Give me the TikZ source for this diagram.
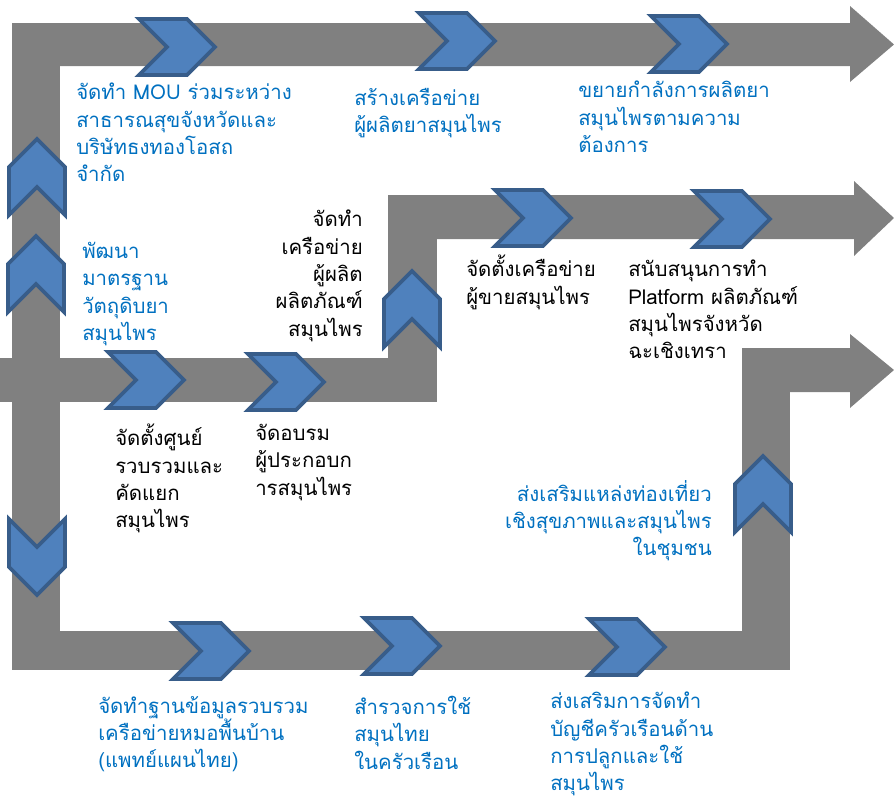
\documentclass[tikz,border=0pt]{standalone}
\usepackage{fontspec}
\newfontfamily\thaifont[Script=Thai]{Loma}
\usepackage{tikz}
\definecolor{bargray}{HTML}{808080}
\definecolor{chevfill}{HTML}{4F81BD}
\definecolor{chevline}{HTML}{385D8A}
\definecolor{txtblue}{HTML}{0070C0}

\begin{document}
\begin{tikzpicture}[x=0.75pt, y=-0.75pt,
  bar/.style={fill=bargray},
  chev/.pic={\draw[fill=chevfill, draw=chevline, line width=2.8pt]
      (-38,-28) -- (10,-28) -- (38,0) -- (10,28) -- (-38,28) -- (-10,0) -- cycle;},
  lbl/.style={font=\thaifont\fontsize{15.3}{20.5}\selectfont, inner sep=0pt},
  bl/.style={lbl, text=txtblue, align=left, anchor=north west},
  br/.style={lbl, text=txtblue, align=right, anchor=north east},
  kl/.style={lbl, text=black, align=left, anchor=north west},
  kr/.style={lbl, text=black, align=right, anchor=north east}
]
\useasboundingbox (0,0) rectangle (894,796);

% gray bars
\fill[bar] (12,23) -- (850,23) -- (850,6) -- (894,44.5) -- (850,82) -- (850,66) -- (12,66) -- cycle;
\fill[bar] (12,23) rectangle (60,670);
\fill[bar] (0,358) rectangle (437,402);
\fill[bar] (388,195) rectangle (437,402);
\fill[bar] (388,195) -- (854,195) -- (854,181) -- (894,218) -- (854,256) -- (854,239) -- (388,239) -- cycle;
\fill[bar] (12,631) rectangle (790,670);
\fill[bar] (742,348) rectangle (790,670);
\fill[bar] (742,348) -- (850,348) -- (850,334) -- (894,370) -- (850,408) -- (850,392) -- (742,392) -- cycle;

% chevrons: right, up, down
\foreach \x/\y in {177/47, 457/41, 689/44, 533/218, 732/219, 146/380, 286/382,
                   211/651, 402/646, 627/647}
  \pic at (\x,\y) {chev};
\foreach \x/\y in {37/177, 36/274, 412/309, 763/494}
  \pic[rotate=90] at (\x,\y) {chev};
\pic[rotate=-90] at (37,557) {chev};

% top row
\node[bl] (mou) at (76,83) {จัดทำ MOU ร่วมระหว่าง\\สาธารณสุขจังหวัดและ\\บริษัทธงทองโอสถ\\จำกัด};
\node[bl] (net) at (354,88) {สร้างเครือข่าย\\ผู้ผลิตยาสมุนไพร};
\node[bl] (expand) at (578,81) {ขยายกำลังการผลิตยา\\สมุนไพรตามความ\\ต้องการ};

% middle
\node[bl] (std) at (82,242) {พัฒนา\\มาตรฐาน\\วัตถุดิบยา\\สมุนไพร};
\node[kr] (prodnet) at (363,210) {จัดทำ\\เครือข่าย\\ผู้ผลิต\\ผลิตภัณฑ์\\สมุนไพร};
\node[kl] (seller) at (466,255) {จัดตั้งเครือข่าย\\ผู้ขายสมุนไพร};
\node[kl] (platform) at (628,260) {สนับสนุนการทำ\\Platform ผลิตภัณฑ์\\สมุนไพรจังหวัด\\ฉะเชิงเทรา};
\node[kl] (center) at (115,424) {จัดตั้งศูนย์\\รวบรวมและ\\คัดแยก\\สมุนไพร};
\node[kl] (train) at (255,424) {จัดอบรม\\ผู้ประกอบก\\ารสมุนไพร};
\node[br] (tour) at (712,480) {ส่งเสริมแหล่งท่องเที่ยว\\เชิงสุขภาพและสมุนไพร\\ในชุมชน};

% bottom row
\node[bl] (folkdb) at (98,696) {จัดทำฐานข้อมูลรวบรวม\\เครือข่ายหมอพื้นบ้าน\\(แพทย์แผนไทย)};
\node[bl] (survey) at (354,696) {สำรวจการใช้\\สมุนไทย\\ในครัวเรือน};
\node[bl] (account) at (550,692) {ส่งเสริมการจัดทำ\\บัญชีครัวเรือนด้าน\\การปลูกและใช้\\สมุนไพร};
\end{tikzpicture}
\end{document}
